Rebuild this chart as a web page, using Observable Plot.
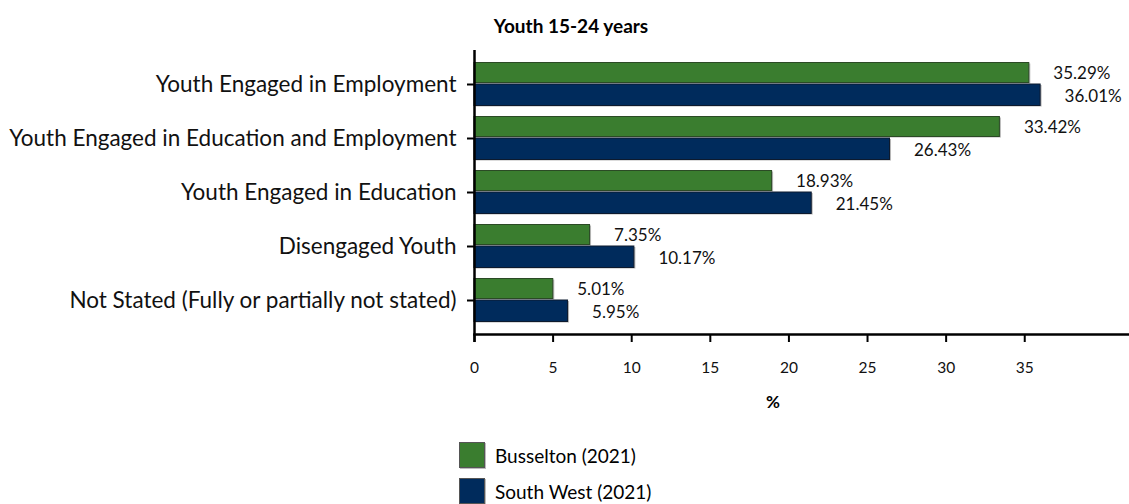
<!DOCTYPE html>
<html>
<head>
<meta charset="utf-8">
<script src="https://cdn.jsdelivr.net/npm/d3@7"></script>
<script src="https://cdn.jsdelivr.net/npm/@observablehq/plot@0.6"></script>
<style>
  html, body { margin: 0; padding: 0; background: #fff; }
  body { position: relative; width: 1129px; height: 504px; overflow: hidden; font-family: Lato, "Noto Sans", sans-serif; color: #000; }
  #chart { position: absolute; left: 0; top: 0; z-index: 0; }
  #title { position: absolute; z-index: 1; left: 0; width: 1142px; top: 14px; text-align: center; font-weight: bold; font-size: 19px; line-height: 24px; }
  #xlabel { position: absolute; z-index: 1; left: 743px; width: 60px; top: 392px; text-align: center; font-weight: bold; font-size: 17px; line-height: 20px; }
  .legend { position: absolute; z-index: 1; left: 459px; display: flex; align-items: center; font-size: 19px; }
  .legend .sw { width: 24px; height: 24px; border: 1px solid #555; margin-right: 10px; box-shadow: 1px 1px 0 #bbb; }
</style>
</head>
<body>
<div id="chart"></div>
<div id="title">Youth 15-24 years</div>
<div id="xlabel">%</div>
<div id="legend"></div>
<script>
const categories = [
  "Youth Engaged in Employment",
  "Youth Engaged in Education and Employment",
  "Youth Engaged in Education",
  "Disengaged Youth",
  "Not Stated (Fully or partially not stated)"
];
const seriesNames = ["Busselton (2021)", "South West (2021)"];
const busselton = [35.29, 33.42, 18.93, 7.35, 5.01];
const southWest = [36.01, 26.43, 21.45, 10.17, 5.95];
const xTicks = [0, 5, 10, 15, 20, 25, 30, 35];
const colors = ["#3a7d2f", "#002b5c"];
const strokes = ["#2b4a25", "#0d1a2e"];

const rowsA = categories.map((c, i) => ({category: c, value: busselton[i]}));
const rowsB = categories.map((c, i) => ({category: c, value: southWest[i]}));
const fmt = v => v.toFixed(2) + "%";

const barA = {insetTop: 5.5, insetBottom: 28.5};
const barB = {insetTop: 27, insetBottom: 5.5};

const plot = Plot.plot({
  width: 1129,
  height: 420,
  marginTop: 50,
  marginBottom: 86,
  marginLeft: 474,
  marginRight: 1,
  style: {fontFamily: "Lato, 'Noto Sans', sans-serif", fontSize: "14px", color: "#000", background: "transparent"},
  x: {domain: [0, 41.6], axis: null},
  y: {domain: categories, paddingInner: 0, paddingOuter: 0.082, axis: null},
  marks: [
    Plot.barX(rowsA, {x: "value", y: "category", ...barA, dx: 1.5, dy: 1, fill: "#b8b8b8"}),
    Plot.barX(rowsB, {x: "value", y: "category", ...barB, dx: 1.5, dy: 1, fill: "#b8b8b8"}),
    Plot.barX(rowsA, {x: "value", y: "category", ...barA, fill: colors[0], stroke: strokes[0], strokeWidth: 1}),
    Plot.barX(rowsB, {x: "value", y: "category", ...barB, fill: colors[1], stroke: strokes[1], strokeWidth: 1}),
    Plot.text(rowsA, {x: "value", y: "category", text: d => fmt(d.value), dx: 24, dy: -11, textAnchor: "start", fontSize: 17, fill: "#111"}),
    Plot.text(rowsB, {x: "value", y: "category", text: d => fmt(d.value), dx: 24, dy: 12, textAnchor: "start", fontSize: 17, fill: "#111"}),
    Plot.axisY({label: null, tickSize: 7, tickPadding: 11, fontSize: 22.5, stroke: "#000", strokeWidth: 2, fill: "#111"}),
    Plot.axisX({ticks: xTicks, tickSize: 8, tickPadding: 19, fontSize: 15.5, label: null, stroke: "#000", strokeWidth: 2, fill: "#111"}),
    Plot.ruleX([0], {stroke: "#000", strokeWidth: 2.5, insetBottom: -8}),
    Plot.frame({anchor: "bottom", stroke: "#000", strokeWidth: 2.5})
  ]
});
document.getElementById("chart").appendChild(plot);

const legend = document.getElementById("legend");
seriesNames.forEach((name, i) => {
  const row = document.createElement("div");
  row.className = "legend";
  row.style.top = (442 + i * 36) + "px";
  const sw = document.createElement("div");
  sw.className = "sw";
  sw.style.background = colors[i];
  const label = document.createElement("span");
  label.textContent = name;
  row.appendChild(sw);
  row.appendChild(label);
  legend.appendChild(row);
});
</script>
</body>
</html>
